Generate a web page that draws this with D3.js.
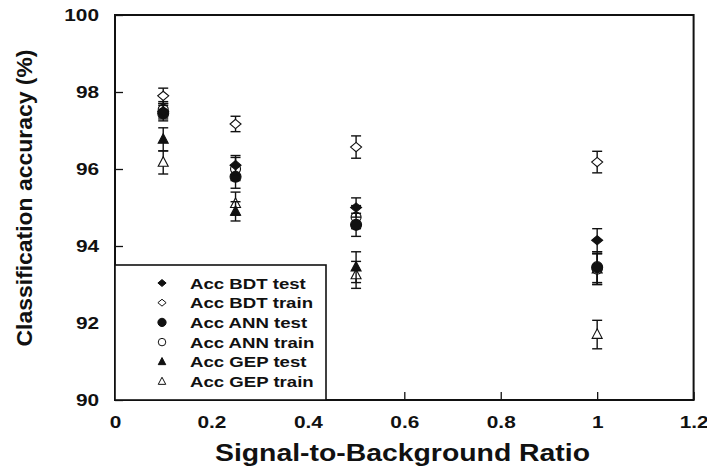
<!DOCTYPE html>
<html><head><meta charset="utf-8">
<script src="https://cdn.jsdelivr.net/npm/d3@7"></script>
<style>body{margin:0;background:#fff}svg{display:block}text{font-family:"Liberation Sans",Arial,sans-serif;font-weight:bold;fill:#111}</style>
</head><body><svg id="c" width="707" height="472"></svg>
<script>
const xValues = [0.1, 0.25, 0.5, 1];
const bdtTest = [97.5, 96.1, 95.0, 94.15];
const bdtTestErr = [0.2, 0.25, 0.25, 0.3];
const bdtTrain = [97.9, 97.17, 96.57, 96.18];
const bdtTrainErr = [0.2, 0.2, 0.29, 0.28];
const annTest = [97.45, 95.8, 94.55, 93.45];
const annTestErr = [0.2, 0.3, 0.3, 0.4];
const annTrain = [97.55, 96.0, 94.75, 93.4];
const annTrainErr = [0.2, 0.3, 0.3, 0.4];
const gepTest = [96.77, 94.9, 93.45, 93.4];
const gepTestErr = [0.3, 0.25, 0.4, 0.4];
const gepTrain = [96.17, 95.1, 93.25, 91.7];
const gepTrainErr = [0.3, 0.3, 0.35, 0.37];
const xTicks = [0, 0.2, 0.4, 0.6, 0.8, 1, 1.2];
const yTicks = [90, 92, 94, 96, 98, 100];
const seriesNames = ["Acc BDT test","Acc BDT train","Acc ANN test","Acc ANN train","Acc GEP test","Acc GEP train"];

// custom marker shapes (size = nominal width in px)
const diamond = {draw(ctx, s){const w=s/2,h=s*0.42;ctx.moveTo(0,-h);ctx.lineTo(w,0);ctx.lineTo(0,h);ctx.lineTo(-w,0);ctx.closePath();}};
const circle = {draw(ctx, s){const r=s/2;ctx.moveTo(r,0);ctx.arc(0,0,r,0,2*Math.PI);ctx.closePath();}};
const triangle = {draw(ctx, s){const w=s/2,h=s*0.95;ctx.moveTo(0,-h*0.6);ctx.lineTo(w,h*0.4);ctx.lineTo(-w,h*0.4);ctx.closePath();}};

const series = {
  bdtTest:  {name: seriesNames[0], v: bdtTest,  e: bdtTestErr,  sym: diamond,  fill: "#111", size: 11},
  bdtTrain: {name: seriesNames[1], v: bdtTrain, e: bdtTrainErr, sym: diamond,  fill: "#fff", size: 11},
  annTest:  {name: seriesNames[2], v: annTest,  e: annTestErr,  sym: circle,   fill: "#111", size: 11},
  annTrain: {name: seriesNames[3], v: annTrain, e: annTrainErr, sym: circle,   fill: "#fff", size: 10},
  gepTest:  {name: seriesNames[4], v: gepTest,  e: gepTestErr,  sym: triangle, fill: "#111", size: 10},
  gepTrain: {name: seriesNames[5], v: gepTrain, e: gepTrainErr, sym: triangle, fill: "#fff", size: 10}
};
const drawOrder = ["gepTrain","gepTest","annTrain","bdtTrain","annTest","bdtTest"];
const legendOrder = ["bdtTest","bdtTrain","annTest","annTrain","gepTest","gepTrain"];

const svg = d3.select("#c");
const L = 115, R = 693.6, T = 15, B = 400;
const x = d3.scaleLinear().domain([0, 1.2]).range([L, R]);
const y = d3.scaleLinear().domain([90, 100]).range([B, T]);

function stretch(sel, f){ sel.each(function(){ const n=this.getComputedTextLength(); d3.select(this).attr("textLength", n*f).attr("lengthAdjust","spacingAndGlyphs"); }); }

// axes
const yAxis = svg.append("g").attr("transform", `translate(${L},0)`)
  .call(d3.axisLeft(y).tickValues(yTicks).tickSizeInner(-8).tickSizeOuter(0).tickPadding(16).tickFormat(d3.format("d")));
yAxis.select(".domain").remove();
yAxis.selectAll("line").attr("stroke", "#111").attr("stroke-width", 1.3);
yAxis.selectAll("text").attr("font-size", 16).attr("dy", "0.36em");
stretch(yAxis.selectAll("text"), 1.3);

const xAxis = svg.append("g").attr("transform", `translate(0,${B})`)
  .call(d3.axisBottom(x).tickValues(xTicks).tickSizeInner(-8).tickSizeOuter(0).tickPadding(17).tickFormat(d => d === 0 ? "0" : (d === 1 ? "1" : d3.format(".1f")(d))));
xAxis.select(".domain").remove();
xAxis.selectAll("line").attr("stroke", "#111").attr("stroke-width", 1.3);
xAxis.selectAll("text").attr("font-size", 16);
stretch(xAxis.selectAll("text"), 1.3);

// frame
svg.append("rect").attr("x", L).attr("y", T).attr("width", R - L).attr("height", B - T)
  .attr("fill", "none").attr("stroke", "#111").attr("stroke-width", 2);

// axis titles
svg.append("text").attr("x", 402.5).attr("y", 461).attr("text-anchor", "middle").attr("font-size", 24)
  .attr("textLength", 375).attr("lengthAdjust", "spacingAndGlyphs").text("Signal-to-Background Ratio");
svg.append("text").attr("transform", "translate(32,198) rotate(-90)").attr("text-anchor", "middle").attr("font-size", 22)
  .attr("textLength", 297).attr("lengthAdjust", "spacingAndGlyphs").text("Classification accuracy (%)");

// data
const cap = 5;
drawOrder.forEach(k => {
  const s = series[k];
  const g = svg.append("g");
  xValues.forEach((xv, i) => {
    const cx = x(xv), y1 = y(s.v[i] + s.e[i]), y2 = y(s.v[i] - s.e[i]);
    g.append("line").attr("x1", cx).attr("x2", cx).attr("y1", y1).attr("y2", y2).attr("stroke", "#111").attr("stroke-width", 1.4);
    g.append("line").attr("x1", cx - cap).attr("x2", cx + cap).attr("y1", y1).attr("y2", y1).attr("stroke", "#111").attr("stroke-width", 1.4);
    g.append("line").attr("x1", cx - cap).attr("x2", cx + cap).attr("y1", y2).attr("y2", y2).attr("stroke", "#111").attr("stroke-width", 1.4);
  });
  g.selectAll("path").data(s.v).enter().append("path")
    .attr("d", d3.symbol().type(s.sym).size(s.size))
    .attr("transform", (d, i) => `translate(${x(xValues[i])},${y(d)})`)
    .attr("fill", s.fill).attr("stroke", "#111").attr("stroke-width", 1.1);
});

// legend
const lg = svg.append("g");
lg.append("rect").attr("x", L).attr("y", 265).attr("width", 211).attr("height", B - 265)
  .attr("fill", "#fff").attr("stroke", "#111").attr("stroke-width", 1.6);
legendOrder.forEach((k, i) => {
  const s = series[k];
  const ly = 283 + i * 19.7;
  lg.append("path").attr("d", d3.symbol().type(s.sym).size(s.size * 0.75))
    .attr("transform", `translate(162,${ly})`).attr("fill", s.fill).attr("stroke", "#111").attr("stroke-width", 1);
  lg.append("text").attr("x", 190).attr("y", ly + 5.5).attr("font-size", 15).text(s.name);
});
stretch(lg.selectAll("text"), 1.24);
</script></body></html>
